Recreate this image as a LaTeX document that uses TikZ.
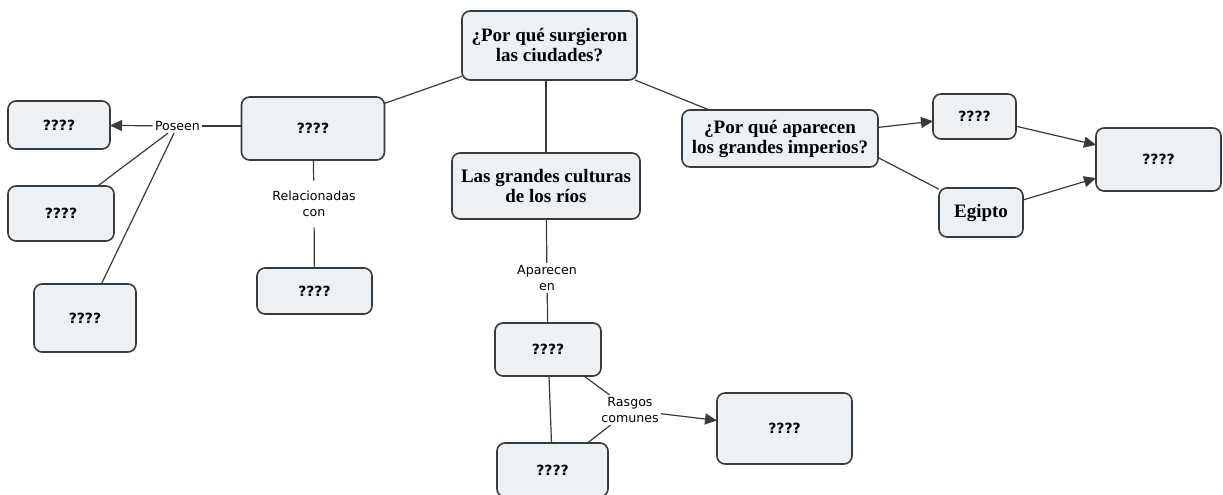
\documentclass[tikz,border=0pt]{standalone}
\usepackage{fontspec}
\setmainfont{Liberation Serif}
\newfontfamily\labfont{DejaVu Sans}
\usetikzlibrary{arrows.meta}
\definecolor{boxfill}{HTML}{EBF1F4}
\definecolor{boxline}{HTML}{3A3A3A}
\tikzset{
  cbox/.style={draw=boxline, fill=boxfill, line width=0.8pt, rounded corners=4pt,
    inner sep=0pt, outer sep=0pt, align=center},
  ttl/.style={font=\fontsize{9.5}{10}\selectfont\bfseries},
  qq/.style={font=\labfont\bfseries\fontsize{7}{8}\selectfont},
  lnk/.style={font=\labfont\fontsize{6.3}{8}\selectfont, inner sep=1pt, align=center},
  conn/.style={draw=boxline, line width=0.6pt},
  arr/.style={conn, -{Triangle[length=6pt,width=5.5pt]}},
}
\begin{document}
\begin{tikzpicture}[x=0.5pt,y=-0.5pt]
\useasboundingbox (0,0) rectangle (1223,494);
\clip (0,0) rectangle (1223,494);
% boxes
\node[cbox,ttl,minimum width=87.5pt,minimum height=34.5pt] (top) at (549.5,45.5) {¿Por qué surgieron\\las ciudades?};
\node[cbox,qq,minimum width=71.5pt,minimum height=31.5pt] (b2) at (313,128.5) {????};
\node[cbox,qq,minimum width=51pt,minimum height=24pt] (b3) at (59,125) {????};
\node[cbox,qq,minimum width=53pt,minimum height=27.5pt] (b4) at (61,213.5) {????};
\node[cbox,qq,minimum width=51pt,minimum height=34pt] (b5) at (85,318) {????};
\node[cbox,qq,minimum width=57.5pt,minimum height=23pt] (b6) at (314.5,291) {????};
\node[cbox,ttl,minimum width=94pt,minimum height=33pt] (b7) at (546,186) {Las grandes culturas\\de los ríos};
\node[cbox,ttl,minimum width=98pt,minimum height=28.5pt] (b8) at (780,138.5) {¿Por qué aparecen\\los grandes imperios?};
\node[cbox,qq,minimum width=41.5pt,minimum height=22.5pt] (b9) at (974.5,116.5) {????};
\node[cbox,qq,minimum width=62.5pt,minimum height=31.5pt] (b10) at (1158.5,159.5) {????};
\node[cbox,ttl,minimum width=42pt,minimum height=24.5pt] (eg) at (981,212.5) {Egipto};
\node[cbox,qq,minimum width=53pt,minimum height=26.5pt] (b11) at (548,349.5) {????};
\node[cbox,qq,minimum width=55.5pt,minimum height=27pt] (b12) at (552.5,470) {????};
\node[cbox,qq,minimum width=67.5pt,minimum height=35.5pt] (b13) at (784.5,428.5) {????};
% linking phrases
\node[lnk] (pos) at (177.5,126) {Poseen};
\node[lnk,inner ysep=5pt] (rel) at (314,204) {Relacionadas\\con};
\node[lnk] (ap) at (547,278) {Aparecen\\en};
\node[lnk] (ras) at (630,410) {Rasgos\\comunes};
% connectors
\draw[conn] (top) -- (b2);
\draw[conn] (top) -- (b8);
\draw[conn] (top.south -| b7.north) -- (b7.north);
\draw[conn] (b2.west |- pos) -- (pos);
\draw[arr] (pos) -- (b3);
\draw[conn] (pos) -- (b4);
\draw[conn] (pos) -- (b5);
\draw[conn] (b2) -- (rel);
\draw[conn] (rel) -- (b6);
\draw[conn] (b7) -- (ap);
\draw[conn] (ap) -- (b11);
\draw[conn] (b11) -- (b12);
\draw[conn] (b11) -- (ras);
\draw[conn] (b12) -- (ras);
\draw[arr] (ras) -- (b13);
\draw[arr] (b8) -- (b9);
\draw[conn] (b8.-11) -- (eg.151);
\draw[arr] (b9) -- (b10);
\draw[arr] (eg) -- (b10);
\end{tikzpicture}
\end{document}
